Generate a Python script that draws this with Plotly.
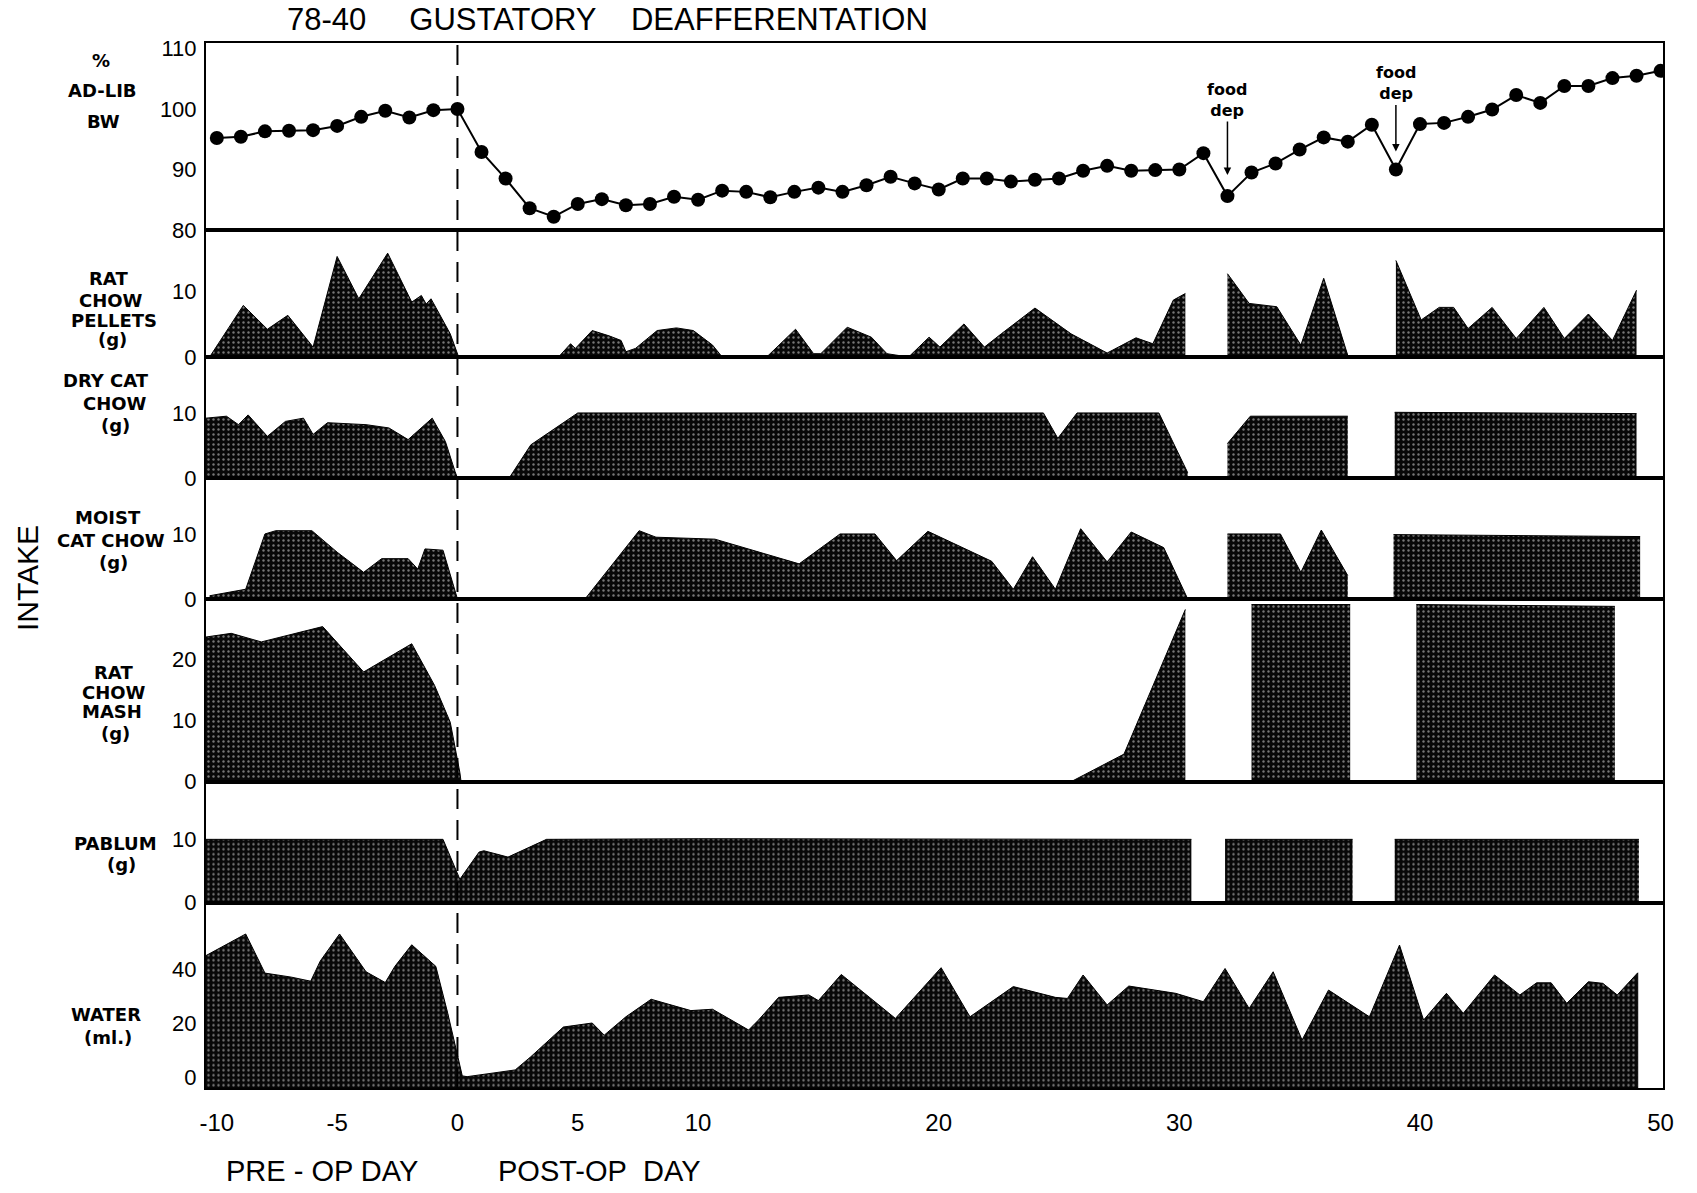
import plotly.graph_objects as go

# ---------------- data ----------------
days = list(range(-10, 51))
bw_pct = [95.2, 95.4, 96.3, 96.4, 96.5, 97.2, 98.7, 99.7, 98.6, 99.8, 100.0,
          92.9, 88.5, 83.6, 82.2, 84.3, 85.1, 84.1, 84.3, 85.5, 85.0,
          86.5, 86.3, 85.4, 86.3, 87.0, 86.3, 87.4, 88.8, 87.7, 86.7,
          88.5, 88.5, 88.0, 88.3, 88.5, 89.8, 90.6, 89.8, 89.9, 90.0,
          92.7, 85.6, 89.5, 91.0, 93.3, 95.3, 94.6, 97.4, 90.0, 97.5,
          97.7, 98.7, 99.9, 102.3, 101.0, 103.8, 103.8, 105.1, 105.5, 106.3]

pellets_x = [-10.3, -8.9, -7.9, -7.05, -6.0, -5.0, -4.1, -2.9, -1.9, -1.5, -1.3, -1.1, -0.9, -0.3, 0.05,
             4.2, 4.7, 4.9, 5.6, 6.3, 6.8, 7.0, 7.4, 8.3, 9.1, 9.8, 10.6, 11.0, 12.85, 14.05, 14.8,
             15.1, 16.2, 17.2, 17.85, 18.75, 19.6, 20.05, 21.05, 21.9, 22.6, 24.0, 25.5, 27.0, 28.2,
             28.9, 29.75, 30.25, None,
             32.0, 32.9, 34.05, 35.05, 36.0, 37.0, None,
             39.0, 40.05, 40.8, 41.4, 42.0, 43.0, 44.0, 45.15, 46.0, 47.0, 48.0, 49.0]
pellets_g = [0, 7.8, 4.2, 6.3, 1.5, 15.2, 8.8, 15.7, 8.3, 9.3, 8.0, 8.8, 7.5, 3.5, 0,
             0, 2.0, 1.3, 4.0, 3.2, 2.5, 0.8, 1.3, 4.0, 4.4, 4.0, 1.8, 0, 0, 4.2, 0.5,
             0.5, 4.5, 3.0, 0.5, 0, 3.0, 1.5, 5.0, 1.5, 3.5, 7.4, 3.5, 0.6, 2.9,
             2.0, 8.6, 9.6, None,
             12.6, 8.1, 7.6, 1.8, 11.9, 0.25, None,
             14.6, 5.6, 7.5, 7.5, 4.3, 7.5, 2.8, 7.5, 2.8, 6.5, 2.5, 10.1]

dry_x = [-10.45, -9.6, -9.1, -8.7, -7.9, -7.15, -6.4, -6.0, -5.4, -3.8, -2.85, -2.05, -1.05, -0.5, -0.1, 0.0,
         2.15, 3.05, 5.0, 24.35, 24.95, 25.75, 29.15, 30.35, None,
         32.0, 32.95, 37.0, None,
         38.95, 49.0]
dry_g = [9.2, 9.5, 8.2, 9.7, 6.4, 8.7, 9.2, 6.7, 8.5, 8.2, 7.7, 5.9, 9.2, 5.6, 1.0, 0,
         0, 5.1, 10.0, 10.0, 6.1, 10.0, 10.0, 0.8, None,
         5.3, 9.5, 9.5, None,
         10.1, 9.9]

moist_x = [-10.3, -9.5, -8.8, -8.0, -7.55, -6.05, -5.0, -3.9, -3.15, -2.05, -1.65, -1.35, -0.6, 0.0,
           5.3, 7.55, 8.25, 10.7, 14.2, 15.9, 17.35, 18.25, 19.55, 22.2, 23.1, 23.9, 24.85, 25.9,
           27.0, 28.0, 29.35, 30.35, None,
           32.0, 34.2, 35.05, 35.9, 37.0, None,
           38.9, 49.15]
moist_g = [0.5, 1.0, 1.5, 10.0, 10.5, 10.5, 7.2, 4.1, 6.2, 6.2, 4.6, 7.7, 7.5, 0,
           0, 10.5, 9.5, 9.2, 5.4, 10.0, 10.0, 5.9, 10.4, 5.8, 1.5, 6.5, 1.5, 10.8,
           5.7, 10.3, 7.9, 0, None,
           10.0, 10.0, 4.1, 10.6, 3.6, None,
           9.9, 9.6]

mash_x = [-10.45, -9.4, -8.15, -5.6, -3.9, -1.9, -0.95, -0.3, 0.1, 0.15, 25.5, 27.7, 30.25, None,
          33.0, 37.1, None,
          39.85, 48.1]
mash_g = [23.6, 24.2, 22.8, 25.3, 17.9, 22.5, 15.7, 9.7, 1.5, 0, 0, 4.5, 28.1, None,
          28.9, 28.9, None,
          28.9, 28.6]

pablum_x = [-10.45, -0.6, 0.1, 0.9, 1.1, 2.1, 3.7, 10.0, 30.5, None,
            31.9, 37.2, None,
            38.95, 49.1]
pablum_g = [10, 10, 3.7, 8.0, 8.2, 7.2, 10, 10.1, 10, None,
            10, 10, None,
            10, 10]

water_x = [-10.45, -8.8, -8.0, -6.9, -6.1, -5.7, -4.9, -3.8, -3.0, -2.6, -1.9, -0.9, -0.4, 0.2, 0.4,
           2.4, 3.05, 4.4, 5.6, 6.1, 7.0, 8.05, 9.7, 10.6, 12.1, 12.5, 13.35, 14.6, 15.0, 15.95,
           18.2, 20.1, 21.3, 23.1, 24.85, 25.35, 26.0, 27.0, 27.9, 29.85, 31.0, 31.9, 32.9, 33.9,
           35.1, 36.2, 37.9, 39.15, 40.15, 41.1, 41.8, 43.1, 44.15, 44.85, 45.45, 46.1, 47.0,
           47.6, 48.2, 49.05]
water_ml = [45, 53, 38.5, 37, 35.5, 43, 53, 39, 35, 41, 49, 41, 23.5, 0.4, 0.1,
            2.6, 7.5, 18.5, 20, 15.5, 22.3, 28.8, 24.6, 25.1, 17.4, 21, 29.5, 30.4, 28.3, 38,
            21.7, 40.5, 22.3, 33.5, 29.5, 29.1, 37.8, 26.7, 33.7, 31, 27.9, 40.2, 25.4, 39,
            13.7, 32.2, 22.3, 48.9, 21.1, 31, 23.6, 37.8, 30.4, 34.9, 34.9, 27.3, 35.3,
            34.7, 30.4, 38.6]

x_tickvals = [-10, -5, 0, 5, 10, 20, 30, 40, 50]
x_ticktext = ["-10", "-5", "0", "5", "10", "20", "30", "40", "50"]
food_dep_days = [32, 39]

# ---------------- layout geometry ----------------
W, H = 1697, 1193
L, R, T, B = 206, 34, 43, 105
PW, PH = W - L - R, H - T - B
edges = [43, 230, 357, 478, 599, 781.7, 902.7, 1088]


def fy(py):
    return 1 - (py - T) / PH


def fx(px):
    return (px - L) / PW


def segments(xs, ys):
    """Split data lists at None (days with no food offered)."""
    segs, cx, cy = [], [], []
    for a, b in zip(xs, ys):
        if a is None:
            if cx:
                segs.append((cx, cy))
            cx, cy = [], []
        else:
            cx.append(a)
            cy.append(b)
    if cx:
        segs.append((cx, cy))
    return segs


TICKF = "Liberation Sans, Arial, sans-serif"
LABF = "DejaVu Sans, sans-serif"
pattern = dict(shape=".", bgcolor="#080808", fgcolor="#ffffff", fgopacity=0.45, size=5, solidity=0.18)

fig = go.Figure()

# body weight
fig.add_trace(go.Scatter(x=days, y=bw_pct, mode="lines+markers", yaxis="y",
                         line=dict(color="black", width=2),
                         marker=dict(color="black", size=14), showlegend=False))

series = [(pellets_x, pellets_g, "y2"), (dry_x, dry_g, "y3"), (moist_x, moist_g, "y4"),
          (mash_x, mash_g, "y5"), (pablum_x, pablum_g, "y6")]
for xs, ys, ya in series:
    for sx, sy in segments(xs, ys):
        fig.add_trace(go.Scatter(x=sx, y=sy, yaxis=ya, mode="lines", fill="tozeroy",
                                 line=dict(color="black", width=1), fillcolor="#101010",
                                 fillpattern=pattern, showlegend=False))

water_min = -4.1
fig.add_trace(go.Scatter(x=water_x + [water_x[-1], water_x[0]],
                         y=water_ml + [water_min, water_min], yaxis="y7",
                         mode="lines", fill="toself", line=dict(color="black", width=1),
                         fillcolor="#101010", fillpattern=pattern, showlegend=False))

yax_common = dict(showline=True, linecolor="black", linewidth=2, mirror=True, showgrid=False,
                  zeroline=False, ticks="", tickfont=dict(family=TICKF, size=22, color="black"),
                  anchor="x", ticklabelstandoff=3)

fig.update_layout(
    width=W, height=H, margin=dict(l=L, r=R, t=T, b=B, autoexpand=False),
    paper_bgcolor="white", plot_bgcolor="white", showlegend=False,
    xaxis=dict(range=[-10.45, 50.1], anchor="y7", showline=True, linecolor="black", linewidth=2,
               mirror="all", showgrid=False, zeroline=False, ticks="",
               tickvals=x_tickvals, ticktext=x_ticktext, ticklabelstandoff=12,
               tickfont=dict(family=TICKF, size=24, color="black")),
    yaxis=dict(domain=[fy(edges[1]), fy(edges[0])], range=[80, 110.9], tickvals=[80, 90, 100, 110], **yax_common),
    yaxis2=dict(domain=[fy(edges[2]), fy(edges[1])], range=[0, 19.2], tickvals=[0, 10], **yax_common),
    yaxis3=dict(domain=[fy(edges[3]), fy(edges[2])], range=[0, 18.6], tickvals=[0, 10], **yax_common),
    yaxis4=dict(domain=[fy(edges[4]), fy(edges[3])], range=[0, 18.6], tickvals=[0, 10], **yax_common),
    yaxis5=dict(domain=[fy(edges[5]), fy(edges[4])], range=[0, 29.8], tickvals=[0, 10, 20], **yax_common),
    yaxis6=dict(domain=[fy(edges[6]), fy(edges[5])], range=[0, 19.1], tickvals=[0, 10], **yax_common),
    yaxis7=dict(domain=[0, fy(edges[6])], range=[water_min, 64.6], tickvals=[0, 20, 40], **yax_common),
)

# dashed line at operation day
fig.add_shape(type="line", xref="x", yref="paper", x0=0, x1=0, y0=0, y1=1,
              line=dict(color="black", width=2, dash="20px,11px"), layer="above")

ann = []


def txt(text, px, py, size, family=LABF, weight="bold", **kw):
    ann.append(dict(text=text, x=fx(px), y=fy(py), xref="paper", yref="paper", showarrow=False,
                    xanchor="center", yanchor="middle",
                    font=dict(family=family, size=size, color="black", weight=weight), **kw))


# title
txt("78-40\u00a0\u00a0\u00a0\u00a0\u00a0GUSTATORY\u00a0\u00a0\u00a0\u00a0DEAFFERENTATION", 607, 20, 31,
    family=TICKF, weight="normal")

# panel labels
panel_labels = [
    [("%", 101, 60), ("AD-LIB", 102, 91), ("BW", 103, 122)],
    [("RAT", 108, 279), ("CHOW", 111, 300), ("PELLETS", 114, 320), ("(g)", 112, 339)],
    [("DRY CAT", 106, 381), ("CHOW", 115, 403), ("(g)", 115, 425)],
    [("MOIST", 108, 517), ("CAT CHOW", 111, 540), ("(g)", 114, 562)],
    [("RAT", 113, 672), ("CHOW", 114, 692), ("MASH", 112, 711), ("(g)", 115, 733)],
    [("PABLUM", 115, 843), ("(g)", 121, 864)],
    [("WATER", 106, 1014), ("(ml.)", 108, 1037)],
]
for grp in panel_labels:
    for t, px, py in grp:
        txt(t, px, py, 18)

txt("INTAKE", 27, 578, 30, family=TICKF, weight="normal", textangle=-90)
txt("PRE - OP DAY", 322, 1171, 29, family=TICKF, weight="normal")
txt("POST-OP\u00a0\u00a0DAY", 599, 1171, 29, family=TICKF, weight="normal")

# food deprivation arrows
for d, ay, so in zip(food_dep_days, [-96, -86], [21, 18]):
    ann.append(dict(x=d, y=bw_pct[days.index(d)], xref="x", yref="y", text="food<br>dep",
                    showarrow=True, ax=0, ay=ay, arrowhead=2, arrowsize=1, arrowwidth=1.5,
                    arrowcolor="black", standoff=so,
                    font=dict(family=LABF, size=16, color="black", weight="bold")))

fig.update_layout(annotations=ann)
fig.write_html("out.html")
